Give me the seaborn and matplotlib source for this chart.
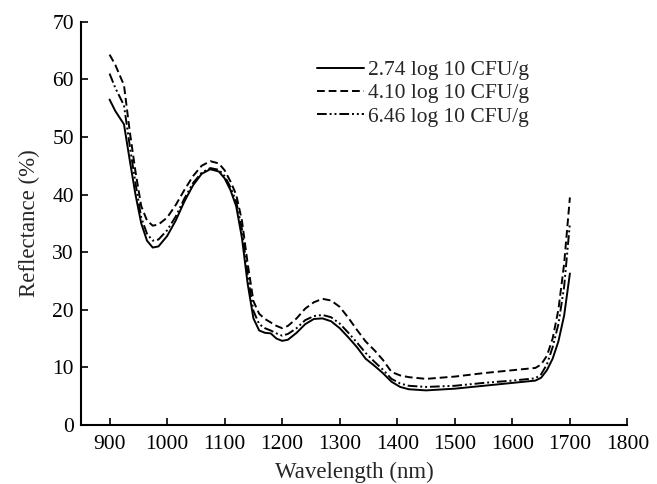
import numpy as np
import pandas as pd
import matplotlib
matplotlib.use("Agg")
import matplotlib.pyplot as plt
import seaborn as sns

wavelength = [900, 910, 925, 935, 945, 955, 965, 975, 985, 1000, 1015, 1030, 1045, 1060, 1075,
              1090, 1100, 1110, 1120, 1130, 1140, 1150, 1160, 1170, 1180, 1190, 1200, 1210,
              1225, 1240, 1255, 1270, 1285, 1300, 1315, 1330, 1345, 1360, 1375, 1390, 1405,
              1420, 1450, 1500, 1550, 1600, 1640, 1650, 1660, 1670, 1680, 1690, 1700]

refl_274 = [56.5, 54.5, 52.2, 46.0, 40.0, 35.0, 32.0, 30.8, 31.0, 32.8, 35.5, 38.8, 41.6, 43.6, 44.4,
            44.0, 42.8, 40.8, 38.0, 32.5, 24.5, 18.5, 16.4, 16.0, 15.9, 15.0, 14.6, 14.8,
            16.0, 17.5, 18.4, 18.5, 18.0, 16.8, 15.2, 13.5, 11.5, 10.3, 9.0, 7.5, 6.6,
            6.2, 6.0, 6.3, 6.8, 7.3, 7.7, 8.2, 9.5, 11.5, 14.5, 19.0, 26.3]

refl_410 = [64.3, 62.5, 59.0, 51.0, 44.0, 38.0, 35.5, 34.6, 34.8, 36.0, 38.2, 40.8, 43.2, 45.0, 45.8,
            45.4, 44.2, 42.3, 40.0, 35.5, 28.0, 21.5, 19.3, 18.4, 17.8, 17.2, 16.8, 17.2,
            18.5, 20.2, 21.3, 21.9, 21.6, 20.5, 18.6, 16.5, 14.5, 13.0, 11.3, 9.2, 8.6,
            8.3, 8.0, 8.4, 9.0, 9.5, 9.9, 10.5, 12.0, 15.0, 20.0, 28.0, 39.5]

refl_646 = [61.0, 58.5, 55.5, 48.5, 42.0, 36.0, 33.2, 32.0, 32.2, 33.8, 36.2, 39.3, 42.0, 43.8, 44.6,
            44.3, 43.2, 41.3, 38.8, 34.0, 26.0, 19.8, 17.5, 16.8, 16.4, 15.9, 15.5, 15.8,
            16.8, 18.2, 18.9, 19.1, 18.7, 17.6, 16.0, 14.3, 12.5, 11.0, 9.6, 8.0, 7.2,
            6.8, 6.6, 6.8, 7.3, 7.7, 8.1, 8.8, 10.5, 13.5, 17.5, 24.0, 35.0]

labels = ["2.74 log 10 CFU/g", "4.10 log 10 CFU/g", "6.46 log 10 CFU/g"]

frames = []
for lab, vals in zip(labels, [refl_274, refl_410, refl_646]):
    frames.append(pd.DataFrame({"Wavelength": wavelength, "Reflectance": vals, "Sample": lab}))
df = pd.concat(frames, ignore_index=True)

sns.set_theme(style="ticks")
plt.rcParams["font.family"] = ["Liberation Serif", "DejaVu Serif"]

fig = plt.figure(figsize=(6.57, 4.84), dpi=100)
ax = fig.add_axes([0.123, 0.122, 0.832, 0.833])

sns.lineplot(data=df, x="Wavelength", y="Reflectance", style="Sample", color="black",
             dashes={labels[0]: "", labels[1]: (4, 2), labels[2]: (5, 1.5, 1, 1.5, 1, 1.5)},
             linewidth=1.4, ax=ax, estimator=None, sort=True)

ax.set_xlim(850, 1800)
ax.set_ylim(0, 70)
ax.set_xticks(np.arange(900, 1801, 100))
ax.set_yticks(np.arange(0, 71, 10))
ax.tick_params(direction="in", length=5, width=1.2, labelsize=15.5, colors="black")
ax.tick_params(axis="x", pad=7)
ax.tick_params(axis="y", pad=5)
for s in ["top", "right"]:
    ax.spines[s].set_visible(False)
for s in ["left", "bottom"]:
    ax.spines[s].set_linewidth(1.5)
    ax.spines[s].set_color("black")
ax.set_xlabel("Wavelength (nm)", fontsize=16.5, labelpad=6)
ax.set_ylabel("Reflectance (%)", fontsize=16.5, labelpad=9)

leg = ax.legend(loc="upper left", bbox_to_anchor=(0.432, 0.905), frameon=False, fontsize=15.5,
                handlelength=2.2, handletextpad=0.15, labelspacing=0.15, borderpad=0,
                borderaxespad=0, title=None)

fig.savefig("out.png", dpi=100)
